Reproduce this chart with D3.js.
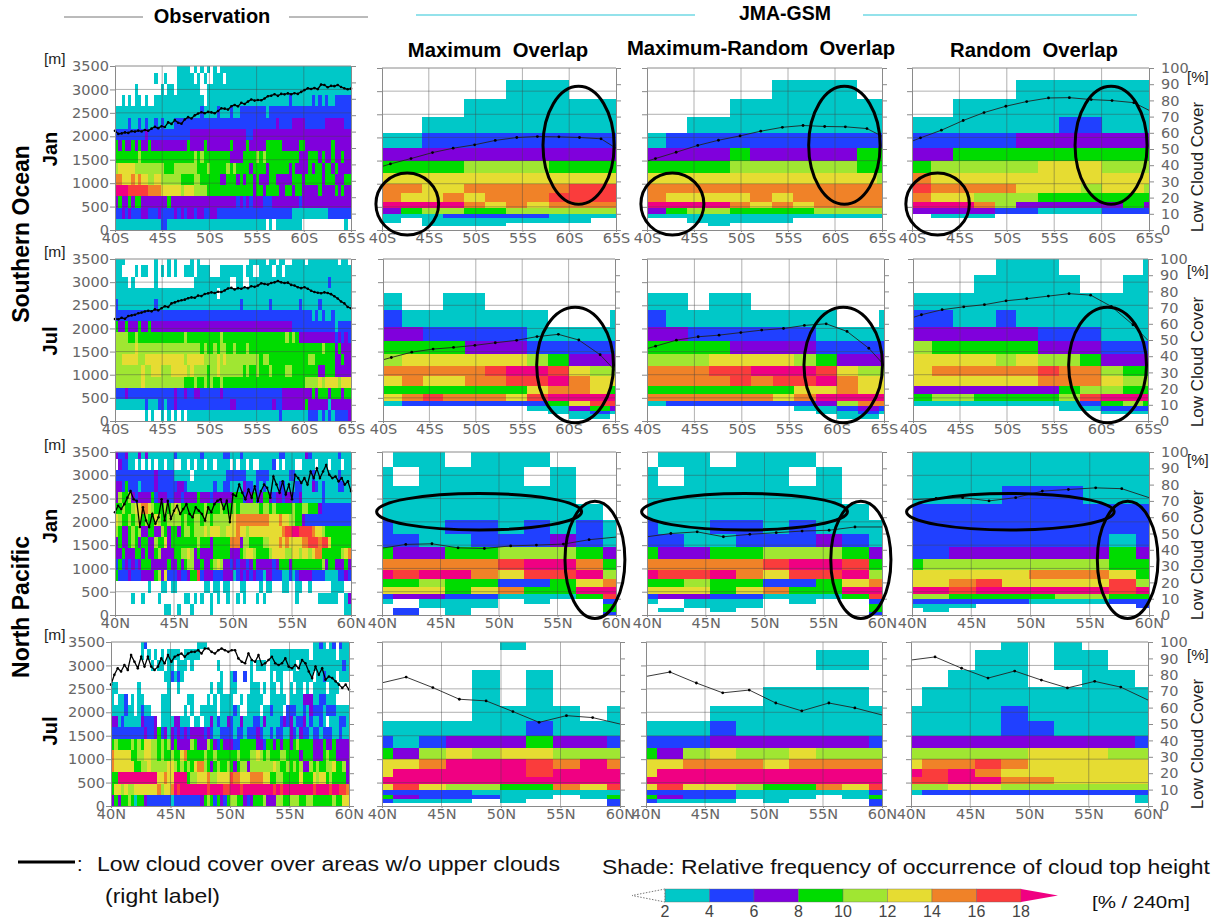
<!DOCTYPE html>
<html>
<head>
<meta charset="utf-8">
<script src="https://cdn.jsdelivr.net/npm/d3@7"></script>
<style>
  html, body { margin: 0; padding: 0; background: #fff; }
  svg { display: block; }
  text { font-family: "Liberation Sans", Arial, sans-serif; }
  .axis text { font-family: "DejaVu Sans", sans-serif; font-size: 14.5px; fill: #666; }
  .axis path, .axis line { stroke: #8a8a8a; }
</style>
</head>
<body>
<script>
// shade classes, lower bound of each colour in % / 240m
let shadeBreaks = [2,4,6,8,10,12,14,16,18];
let shadeColors = ["#ffffff","#00c8c8","#2040ff","#8000dc","#00dc00","#a0e632","#e6dc32","#f08228","#fa3c3c","#f00082"];

// cell strings: one row per height bin (top down), digit = shade class index
// model level tops in metres differ per region and month
let soJanLevels = [3500,3247,2829,2439,2093,1782,1501,1227,996,794,613,469,346,252,159,94,20,0];
let soJulLevels = [3500,3150,2760,2397,2033,1728,1438,1184,966,762,581,436,319,218,145,51,0];
let npJanLevels = [3500,3174,2775,2391,2050,1732,1456,1196,964,768,594,449,333,239,145,58,0];
let npJulLevels = [3500,3335,2907,2535,2143,1821,1493,1236,1000,800,621,464,336,229,143,57,0];
let obsLevels = [3500,3360,3120,2880,2640,2400,2160,1920,1680,1440,1200,960,720,480,240,0];

let soLatEdges = [40,42.0,44.3,46.5,48.8,51,53.3,55.5,57.8,60,62.3,64.5,65];
let npLatEdges = [40,40.9,43.15,45.4,47.6,49.9,52.1,54.4,56.6,58.9,60];
let soLineLats = [40,40.9,43.1,45.4,47.6,49.9,52.1,54.4,56.6,58.9,61.1,63.4,65];
let npLineLats = [40,42.03,44.27,46.5,48.75,51,53.2,55.5,57.7,60];

let soJanObs = [
"000000000000000000011110101010101111111111111111111111111111111111111111",
"000000000000100100011111010100111011111111111111111111111111111111111111",
"000000100000001011011111110011111111111111111111111111111111111111111111",
"001010110100111111111111111011111111111111111111111112111111212121122222",
"111111111111111111111111112111121112112222222212222222222222222222222222",
"111121121211212111222222222222222222222222222222232222333322222233333322",
"222222222322222222222223333333333333333322333333333333333333333333333333",
"434334343343333333333343333433333334333343333344444333334433333333433333",
"444444454444444444444444545444444443333444454544444444443334443433433433",
"566666555555555444555555544454444454544443444434444443433334344344343333",
"776667676655665555554444554444443344434344343334433333444344444344433344",
"999988888877776666665666555544444444444444344344443344344333334333343433",
"343343443333333343333333333333333333323232333222333333332333333333333333",
"223232223322232222323233233223322222222222222222222222111111111112222222",
"111111111111112211111111111111111111111111111101011111111000000000000010"];
let soJulObs = [
"111000000000100010100001010000000000000001111101101100111101111111110110",
"110000101100101010100111011110001111111011001111011011111111111111111111",
"111101000000100000000000111111111110011001111111111111111111111112111111",
"111111111111111111111111111111101111111111111111111111111111111111111111",
"211111111111211111111111111111111111112111111112111111112111112111111111",
"222222222222222222222222222222222222222222222222222222222222121211211111",
"433433343343333333333333333333333333333333333333333333222222222222212222",
"555544544444444444444544444444445444444444444444444454543333333333323232",
"555555655555555555555555554544545544544454444444444444444444444544434333",
"556666655666666666666566666555565655555555554554444444444445544444433433",
"555555556556665556666656555545565555555454454445444455444444443344433333",
"555555556555555555555444544545445444444444444444444444444455556566665666",
"222322222222222222322322332222223222222222222222222333333333434443444344",
"111111111211122122322222222222222223322222222222322333333343333331333333",
"000000000101001010101011111111111111111111111111112111111112221212122223"];
let npJanObs = [
"322311131311111111211111112111111221112111111111112211111132111111112111",
"032211010101011011001101011011011110101101001111201011100111101110111011",
"222222222222322222111110111111111122222211122221111112211111211111112111",
"332422212222322222233211111111211221111322121211112211122111321211112211",
"354453233334233322332333343332333333444233423443233233223111111211111111",
"445445667765444545654444444544445444545555554554544444544554443222222222",
"654454564544654455554544554554555556677777777776667665544322222222222222",
"543345453344335434434554555656665566676656666666666788998888766544444444",
"343345434433544634444444454443444447773554444556667676666778887886444444",
"334333443433453333445565343333444443334566544445666655665665677444444567",
"242323234443333343343455334334565332323323433333234443444444444534433343",
"422232223333453622232234482333222333123232322133222112123333222211112232",
"000000000010001101100000000110110110001100001011000110011001000000111100",
"000001001000010000000110101001010010010100010100000000010000001111110013",
"000000000000000110010001000001000000000000000000000000000000000000000011"];
let npJulObs = [
"000000000120000000000000001110000000000000000000000000000000011210120211",
"000000000101010101111011111000000000000000000000111111111111011111110111",
"000000000000101101101110100000001000000000101110111111110111111111111121",
"000000000000000011212100000000000100120020100000101100011111101121110111",
"110000001000000001001000000000101100110000111010110100101101011110111000",
"101120101100000111000001100001010111100101111100111110111133311221110000",
"111121101211000111000010100111110111121001111011211102221121322212221111",
"331211111322230111133111011011312113211311122131111232312231211210111221",
"222222222232234231323232333323211222212212223211212211321322122122211211",
"454444545466554545343333543335432433322444443324434344345444433343343333",
"766666445566554544544674444454454444445444556545444554444344433345443333",
"766666644556555556654545467754345445434553555555565445454533545445564453",
"449999999999996676699994556667556666877666777766445544444644465664544443",
"466565566666667566798999999998999988999899999999989899999999989999899887",
"343445414432222222122222222345424324554432344453335544555445544444454466"];

let soJanMax = ["000000000000","000000111000","000011111111","001111111111","112222222222","333333333333","444455554444","666666666666","776677777888","766767778888","999976767777","345544555555","111222221111","101111111100","001111000000","000000000000","000000000000"];
let soJanMaxRan = ["000000000000","000000111100","000011111111","001111111111","122222222222","333343333344","444455555544","666666666665","777777777777","766667677777","999976767777","345544445555","111111111111","001111100000","000100000000","000000000000","000000000000"];
let soJanRan = ["000000000000","000001111111","001111111111","111111122111","222223333333","334444444444","455555666555","766666666666","877776665665","766555444444","999753333343","333322111222","011100000000","000000000000","000000000000","000000000000","000000000000"];

let soJulMax = ["000000000000","000000000000","100110000000","211111110001","332222211111","444433322222","566666654333","777778998655","676677889766","444444467764","678777689999","122222224688","000000011343","000000001121","000000000110","000000000000"];
let soJulMaxRan = ["000000000000","000000000000","110110000000","211111111001","332222221111","444433332222","555666654333","777889998655","777787889766","444444466766","777777679999","122222223577","000000011232","000000001121","000000000110","000000000000"];
let soJulRan = ["000011100001","000111110011","111111111111","221121111111","333333222111","544444333222","666656554333","677777877544","666666777655","333333345544","455444458999","111111112454","000000011222","000000000111","000000000000","000000000000"];

let npJanMax = ["0110111000","1011110100","1111111100","1111111110","2112212121","2211222321","4334455543","7777789974","9899768895","4454422467","6664674499","2332211148","1011101002","0011100004","0201000004","0201000002"];
let npJanMaxRan = ["0110111000","1011110100","1111111100","1111111110","2112212111","2211222321","4334455543","7777789984","9889768895","4454422467","6664674499","2332211148","1011101002","0011100004","0101000004","0000000002"];
let npJanRan = ["1111111111","1111111111","1111222111","2222222222","2222222222","2222222212","2233333343","4555555544","6666677764","6678666685","9989999989","5544445544","2222211122","1110000002","0100000000","0000000000"];

let npJulMax = ["0000010000","0000000000","0000101000","0000101000","0000111101","1111112111","2123334332","4356566555","6679998797","6999998999","9999999999","6865544768","2222111111","4322211014","2111010002","0000000002"];
let npJulMaxRan = ["0000000000","0000000110","0000000000","0000011110","0001111111","1112111111","2223333332","4356556555","6677767777","6999999999","9999999999","6866544768","2222111112","4322111014","2111010002","0000000002"];
let npJulRan = ["0000101000","0001101100","0011100110","0111111111","1111211111","1111221111","3333333332","5555566655","6778766666","9897666666","8899776666","5566555555","1222222222","0000000001","0000000001","0000000000"];

// low cloud cover, % (right axis)
let soJanObsCover = [60.5,58.6,58.9,59.5,59.2,60.2,60.0,60.6,60.1,61.0,60.5,61.8,62.9,62.1,63.3,62.8,65.6,64.7,67.0,65.4,64.8,67.4,68.8,68.0,69.9,71.0,71.8,71.2,72.0,71.7,71.2,72.6,74.2,74.0,73.4,75.5,76.2,75.4,77.6,76.8,78.3,79.6,78.9,79.3,79.1,80.2,81.6,81.9,82.8,81.8,83.0,82.7,83.3,82.8,83.4,83.0,84.2,85.3,86.4,86.0,86.6,85.9,88.7,88.4,87.0,87.9,87.7,88.4,87.2,86.4,85.8,86.2];
let soJulObsCover = [63.0,62.8,63.7,63.1,64.8,65.2,65.6,66.5,66.9,67.6,68.1,67.7,68.9,68.3,69.6,70.8,70.4,72.6,73.2,74.0,74.5,74.9,75.8,76.3,76.1,77.4,77.1,78.4,78.8,79.4,79.0,79.8,79.6,80.6,81.8,82.2,81.2,82.0,81.6,82.6,82.0,83.2,82.8,83.6,85.0,84.6,84.2,85.2,85.6,86.4,85.6,85.2,85.4,84.0,83.6,82.6,82.0,82.6,81.6,80.4,79.6,79.2,78.9,79.4,79.0,78.3,77.0,75.6,73.8,72.6,70.4,69.6];
let npJanObsCover = [63,67,65,68,72,76,71,70,54,66,58,54,62,56,60,71,58,70,59,64,67,62,65,68,62,60,66,64,62,58,66,63,68,70,71,65,70,57,74,73,80,75,71,77,72,79,70,76,80,78,72,85,80,75,82,74,80,71,86,84,81,84,80,88,84,90,84,88,92,86,84,85,82,84,80,82,76];
let npJulObsCover = [74,80,84,82,86,83,92,88,84,91,85,91,85,83,85,90,87,92,88,91,92,93,91,93,94,94,95,93,96,96,94,93,95,96,95,94,95,95,90,88,87,93,89,88,92,86,87,89,91,87,86,87,90,85,84,86,84,89,87,82,78,85,80,84,77,79,78,76,74,72,74,71];

let soJanMaxCover = [39.2,40.8,44.1,47.8,50.5,52.6,55.3,57.1,57.7,57.5,57.1,56.3,50.5];
let soJanMaxRanCover = [42.5,44.1,48,52.2,55.4,58.1,61,63.4,64.5,63.9,63.7,62.6,57.9];
let soJanRanCover = [54.8,56.9,61.6,67.6,72.5,76.4,79.3,81.5,81.7,80.5,79.9,78.6,73.9];
let soJulMaxCover = [37.8,39.2,42.5,44.4,45.4,46.7,48.3,49.8,52.1,53.5,50,40.9,31.1];
let soJulMaxRanCover = [44.7,46.2,49.9,52,53,54.6,56.1,57.1,59,60,55.3,44.9,34.6];
let soJulRanCover = [63.9,65.6,68.7,70.5,71.8,74.2,75.5,77.1,78.6,77.7,70.7,59.4,49.7];
let npJanMaxCover = [41,43.3,43.7,41.2,40.8,42.4,42.9,43.5,46.2,47.8];
let npJanMaxRanCover = [48,50,51,48,49.5,50.5,51.5,52,54,54];
let npJanRanCover = [70.7,71.5,72,70,72,76,77,78,77.5,72];
let npJulMaxCover = [75.1,78.6,72.2,65.1,64.1,57.6,51,55.1,53.9,50];
let npJulMaxRanCover = [79,81.7,75,69,70.7,62.8,58,62.8,59.8,55.5];
let npJulRanCover = [89,90.9,84,78,82.3,76.8,72,76,72.5,64.6];

// highlighted areas: centre lat, centre height, half width in degrees, half height in m
let soJanCircles = [[42.7,560,3.35,670],[61,1830,3.8,1274]];
let soJulCircles = [[60.7,1210,4.14,1250]];
let npJanCircles = [[48.3,2217,8.76,391],[58.2,1185,2.56,1260]];

let rows = [
  {label:"Jan", hemi:"S", end:65, levels:soJanLevels, latEdges:soLatEdges, lineLats:soLineLats, circles:soJanCircles,
   cells:[soJanObs,soJanMax,soJanMaxRan,soJanRan], cover:[soJanObsCover,soJanMaxCover,soJanMaxRanCover,soJanRanCover]},
  {label:"Jul", hemi:"S", end:65, levels:soJulLevels, latEdges:soLatEdges, lineLats:soLineLats, circles:soJulCircles,
   cells:[soJulObs,soJulMax,soJulMaxRan,soJulRan], cover:[soJulObsCover,soJulMaxCover,soJulMaxRanCover,soJulRanCover]},
  {label:"Jan", hemi:"N", end:60, levels:npJanLevels, latEdges:npLatEdges, lineLats:npLineLats, circles:npJanCircles,
   cells:[npJanObs,npJanMax,npJanMaxRan,npJanRan], cover:[npJanObsCover,npJanMaxCover,npJanMaxRanCover,npJanRanCover]},
  {label:"Jul", hemi:"N", end:60, levels:npJulLevels, latEdges:npLatEdges, lineLats:npLineLats, circles:[],
   cells:[npJulObs,npJulMax,npJulMaxRan,npJulRan], cover:[npJulObsCover,npJulMaxCover,npJulMaxRanCover,npJulRanCover]}
];

// panel rectangles per row: x0,x1 per column and y0,y1 for obs / model
let panelX = [
  [[115,351],[382,616],[647,882],[912,1149]],
  [[115,351],[383,615],[647,884],[913,1148]],
  [[115,351],[382,616],[647,882],[912,1149]],
  [[111,349],[382,620],[646,882],[911,1148]]
];
let panelY = [[68,230],[259,421],[452,615],[642,806]];
let percentY = [82,276,465,660];
let monthCentre = [149,341,526,731];
let coverCentre = [167,362,555,744];

let svg = d3.select("body").append("svg").attr("width",1212).attr("height",921);
let shade = d3.scaleThreshold().domain(shadeBreaks).range(shadeColors);

rows.forEach((row,r) => {
  row.cells.forEach((cells,c) => {
    let [x0,x1] = panelX[r][c];
    let [y0,y1] = panelY[r];
    if (c == 0 && r == 0) y0 = 66;
    let x = d3.scaleLinear().domain([40,row.end]).range([x0,x1]);
    let y = d3.scaleLinear().domain([0,3500]).range([y1,y0]);
    let pct = d3.scaleLinear().domain([0,100]).range([y1,y0]);
    let levels = c == 0 ? obsLevels : row.levels;
    let g = svg.append("g");

    cells.forEach((str,i) => {
      let chars = str.split("");
      let edges = c == 0
        ? d3.range(chars.length+1).map(k => 40 + k*(row.end-40)/chars.length)
        : row.latEdges;
      g.selectAll(null)
        .data(chars.map((d,k) => ({freq:+d*2+1,k:k})).filter(d => d.freq > 2))
        .join("rect")
        .attr("x",d => x(edges[d.k]))
        .attr("width",d => x(edges[d.k+1])-x(edges[d.k]))
        .attr("y",y(levels[i]))
        .attr("height",y(levels[i+1])-y(levels[i]))
        .attr("fill",d => shade(d.freq))
        .attr("shape-rendering","crispEdges");
    });

    // grid sits on top of the shading
    let grid = g.append("g").attr("stroke","#444").attr("stroke-opacity",0.42);
    d3.range(45,row.end,5).forEach(t => grid.append("line").attr("x1",x(t)).attr("x2",x(t)).attr("y1",y0).attr("y2",y1));
    d3.range(500,3500,500).forEach(t => grid.append("line").attr("x1",x0).attr("x2",x1).attr("y1",y(t)).attr("y2",y(t)));

    let lats = c == 0
      ? row.cover[0].map((d,k) => 40 + k*(row.end-40)/(row.cover[0].length-1))
      : row.lineLats;
    let line = d3.line().x((d,k) => x(lats[k])).y(d => pct(d));
    g.append("path").attr("d",line(row.cover[c])).attr("fill","none")
      .attr("stroke",c == 0 ? "#000" : "#222").attr("stroke-width",c == 0 ? 1.3 : 0.9);
    g.selectAll(null).data(row.cover[c]).join("circle")
      .attr("cx",(d,k) => x(lats[k])).attr("cy",d => pct(d))
      .attr("r",c == 0 ? 1.3 : 1.4).attr("fill","#000")
      .filter((d,k) => c > 0 && (k == 0 || k == lats.length-1)).remove();

    let yAxis = d3.axisLeft(y).tickValues(d3.range(0,3501,500)).tickSize(5).tickPadding(1)
      .tickFormat(c == 0 ? d3.format("d") : "");
    let pctAxis = d3.axisRight(pct).tickValues(d3.range(0,101,10)).tickSize(5).tickPadding(7)
      .tickFormat(c == 3 ? d3.format("d") : "");
    let xAxis = d3.axisBottom(x).tickValues(d3.range(40,row.end+1,5)).tickSize(2).tickPadding(1)
      .tickFormat(d => d + row.hemi);
    g.append("g").attr("class","axis").attr("transform",`translate(${x0},0)`).call(yAxis);
    g.append("g").attr("class","axis").attr("transform",`translate(${x1},0)`).call(pctAxis);
    g.append("g").attr("class","axis").attr("transform",`translate(0,${y1})`).call(xAxis);
    g.append("line").attr("x1",x0).attr("x2",x1).attr("y1",y0).attr("y2",y0).attr("stroke","#8a8a8a");

    if (c > 0) {
      row.circles.forEach(d => {
        g.append("ellipse")
          .attr("cx",x(d[0])).attr("cy",y(d[1]))
          .attr("rx",x(40+d[2])-x(40)).attr("ry",y(0)-y(d[3]))
          .attr("fill","none").attr("stroke","#000").attr("stroke-width",3);
      });
    }
    if (c == 0) {
      svg.append("text").attr("x",44).attr("y",y0-2).attr("font-size",15.5).attr("fill","#222").text("[m]");
    }
  });

  svg.append("text").attr("x",1187).attr("y",percentY[r]).attr("font-size",15).attr("fill","#222").text("[%]");
  svg.append("text").attr("font-size",17).attr("fill","#222").attr("text-anchor","middle")
    .attr("transform",`translate(1203,${coverCentre[r]}) rotate(-90)`)
    .text("Low Cloud Cover");
  svg.append("text").attr("font-size",20).attr("font-weight","bold").attr("text-anchor","middle")
    .attr("transform",`translate(57,${monthCentre[r]}) rotate(-90)`)
    .text(row.label);
});

// region labels
svg.append("text").attr("font-size",23).attr("font-weight","bold").attr("text-anchor","middle")
  .attr("transform","translate(29,234) rotate(-90)").text("Southern Ocean");
svg.append("text").attr("font-size",23).attr("font-weight","bold").attr("text-anchor","middle")
  .attr("transform","translate(29,607) rotate(-90)").text("North Pacific");

// headers
let heading = (txt,x,y,size) => svg.append("text").attr("x",x).attr("y",y).attr("font-size",size)
  .attr("font-weight","bold").attr("text-anchor","middle").style("white-space","pre").text(txt);
heading("Observation",212,23,20);
heading("JMA-GSM",785,20,19.5);
heading("Maximum  Overlap",498,57,20.3);
heading("Maximum-Random  Overlap",761,55,20.3);
heading("Random  Overlap",1034,57,20.3);
[[64,143],[289,368]].forEach(d => svg.append("line").attr("x1",d[0]).attr("x2",d[1]).attr("y1",17).attr("y2",17).attr("stroke","#777"));
[[416,695],[863,1137]].forEach(d => svg.append("line").attr("x1",d[0]).attr("x2",d[1]).attr("y1",15).attr("y2",15).attr("stroke","#70d8e4").attr("stroke-width",1.3));

// bottom notes, stretched to the widths of the original text
let note = (txt,x,y,w) => svg.append("text").attr("x",x).attr("y",y).attr("font-size",21).attr("fill","#111")
  .attr("textLength",w).attr("lengthAdjust","spacingAndGlyphs").text(txt);
svg.append("line").attr("x1",18).attr("x2",75).attr("y1",862).attr("y2",862).attr("stroke","#000").attr("stroke-width",3);
svg.append("text").attr("x",77).attr("y",871).attr("font-size",20).attr("fill","#111").text(":");
note("Low cloud cover over areas w/o upper clouds",97,871,463);
note("(right label)",105,903,115);
note("Shade: Relative frequency of occurrence of cloud top height",602,874,608);

// colour key
let keyX = d3.scaleLinear().domain([2,18]).range([665,1021]);
let key = svg.append("g");
key.selectAll("rect").data(shadeBreaks.slice(0,-1)).join("rect")
  .attr("x",d => keyX(d)).attr("width",d => keyX(d+2)-keyX(d))
  .attr("y",889).attr("height",13)
  .attr("fill",d => shade(d+1)).attr("stroke","#666").attr("stroke-width",0.4);
key.append("polygon")
  .attr("points",`${keyX(18)},889 ${keyX(18)+37},895.5 ${keyX(18)},902`)
  .attr("fill",shadeColors[9]);
key.append("polygon")
  .attr("points",`${keyX(2)},889 ${keyX(2)-33},895.5 ${keyX(2)},902`)
  .attr("fill","none").attr("stroke","#777").attr("stroke-dasharray","1.5,1.5");
key.selectAll("text").data(shadeBreaks).join("text")
  .attr("x",d => keyX(d)).attr("y",917).attr("text-anchor","middle")
  .attr("font-size",16).attr("fill","#444").text(d => d);
svg.append("text").attr("x",1092).attr("y",908).attr("font-size",17).attr("fill","#111")
  .attr("textLength",98).attr("lengthAdjust","spacingAndGlyphs").text("[% / 240m]");
</script>
</body>
</html>
